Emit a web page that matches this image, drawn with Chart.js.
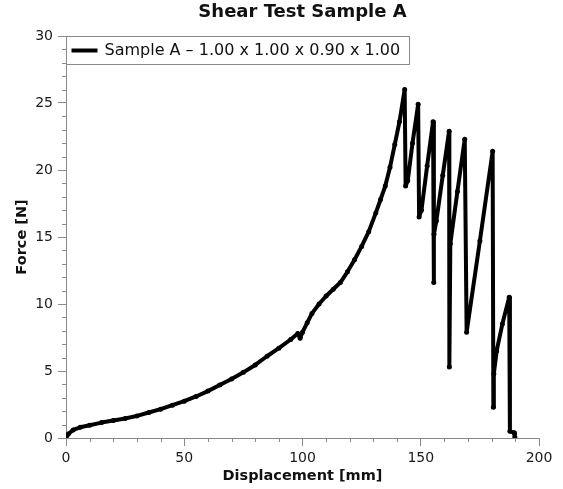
<!DOCTYPE html>
<html>
<head>
<meta charset="utf-8">
<title>Shear Test Sample A</title>
<script src="https://cdn.jsdelivr.net/npm/chart.js@4/dist/chart.umd.min.js"></script>
<style>
  html, body { margin: 0; padding: 0; background: #fff; }
  #wrap { width: 563px; height: 489px; }
</style>
</head>
<body>
<div id="wrap"><canvas id="shearChart"></canvas></div>
<script>
// displacement [mm] / force [N]
const displacement = [0, 1, 3, 6, 10, 15, 20, 25, 30, 35, 40, 45, 50, 55, 60, 65, 70, 75, 80, 85, 90, 95, 98, 99, 100,
  102, 104, 107, 110, 113, 116, 119, 122, 125, 128, 131, 133, 135, 137, 139, 141, 143.2,
  143.6, 144.5, 146.5, 148.9, 149.3, 150.3, 152.7, 155.2, 155.5, 155.6, 156.6, 159.3, 162.0,
  162.1, 162.5, 165.5, 168.6, 169.4, 175, 180.4, 180.7, 180.9, 182.1, 184.5, 187.4, 187.7, 189.5, 189.8];
const force = [0, 0.3, 0.6, 0.8, 0.95, 1.15, 1.3, 1.45, 1.65, 1.9, 2.15, 2.45, 2.75, 3.1, 3.5, 3.95, 4.4, 4.9, 5.45, 6.1, 6.7, 7.35, 7.8, 7.45, 7.9,
  8.6, 9.3, 10.0, 10.6, 11.1, 11.6, 12.4, 13.3, 14.3, 15.4, 16.8, 17.8, 18.8, 20.2, 21.9, 23.6, 26.0,
  18.8, 19.2, 22.0, 24.9, 16.5, 17.0, 20.3, 23.6, 11.6, 15.2, 16.2, 19.6, 22.9,
  5.3, 14.5, 18.4, 22.3, 7.9, 14.7, 21.4, 2.3, 4.8, 6.5, 8.5, 10.5, 0.5, 0.4, 0.05];

const xMajorTicks = [0, 50, 100, 150, 200];
const yMajorTicks = [0, 5, 10, 15, 20, 25, 30];

const FONT = 'DejaVu Sans';
const AXIS_GREY = '#8a8a8a';

Chart.defaults.font.family = FONT;
Chart.defaults.color = '#1a1a1a';

// kleine Ticks (minor) zeichnen, 4px statt 8px
const minorTicks = {
  id: 'minorTicks',
  afterDraw(chart) {
    const c = chart.ctx;
    c.save();
    c.strokeStyle = AXIS_GREY;
    c.lineWidth = 1;
    const xs = chart.scales.x, ys = chart.scales.y;
    xs.ticks.forEach(t => {
      if (xMajorTicks.includes(t.value)) return;
      const px = Math.round(xs.getPixelForValue(t.value)) + 0.5;
      c.beginPath(); c.moveTo(px, xs.top); c.lineTo(px, xs.top + 4); c.stroke();
    });
    ys.ticks.forEach(t => {
      if (yMajorTicks.includes(t.value)) return;
      const py = Math.round(ys.getPixelForValue(t.value)) + 0.5;
      c.beginPath(); c.moveTo(ys.right, py); c.lineTo(ys.right - 4, py); c.stroke();
    });
    c.restore();
  }
};

// Legende im Plotbereich, oben links, mit Rahmen
const innerLegend = {
  id: 'innerLegend',
  afterDraw(chart) {
    const ds = chart.data.datasets[0];
    const area = chart.chartArea;
    const c = chart.ctx;
    const left = Math.round(area.left) + 0.5;
    const top = Math.round(area.top) + 0.5;
    const h = 28;
    const cy = top + h / 2;
    c.save();
    c.font = '16px "' + FONT + '"';
    const textX = left + 38;
    const w = textX + c.measureText(ds.label).width + 9 - left;
    c.fillStyle = '#fff';
    c.fillRect(left, top, w, h);
    c.strokeStyle = AXIS_GREY;
    c.lineWidth = 1;
    c.strokeRect(left, top, Math.round(w), h);
    c.strokeStyle = ds.borderColor;
    c.lineWidth = 4;
    c.beginPath(); c.moveTo(left + 5, cy); c.lineTo(left + 31, cy); c.stroke();
    c.fillStyle = '#111';
    c.textBaseline = 'middle';
    c.fillText(ds.label, textX, cy + 0.5);
    c.restore();
  }
};

const ctx = document.getElementById('shearChart');
const chart = new Chart(ctx.getContext('2d'), {
  type: 'scatter',
  data: {
    datasets: [{
      label: 'Sample A \u2013 1.00 x 1.00 x 0.90 x 1.00',
      data: displacement.map((d, i) => ({ x: d, y: force[i] })),
      showLine: true,
      borderColor: '#000',
      backgroundColor: '#000',
      borderWidth: 4,
      borderJoinStyle: 'round',
      pointRadius: 2.5,
      pointBorderWidth: 0,
      pointBackgroundColor: '#000',
      tension: 0
    }]
  },
  options: {
    responsive: true,
    maintainAspectRatio: false,
    animation: false,
    layout: { padding: { left: 6, right: 24, top: 0, bottom: 0 } },
    scales: {
      x: {
        type: 'linear',
        min: 0, max: 200,
        afterFit: s => { s.height = 51; },
        border: { color: AXIS_GREY, width: 1 },
        grid: {
          drawOnChartArea: false,
          tickLength: 8,
          tickColor: c => xMajorTicks.includes(c.tick && c.tick.value) ? AXIS_GREY : 'rgba(0,0,0,0)'
        },
        ticks: {
          stepSize: 10,
          autoSkip: false,
          maxRotation: 0,
          padding: 4,
          font: { size: 14 },
          callback: v => xMajorTicks.includes(v) ? String(v) : ''
        },
        title: {
          display: true,
          text: 'Displacement [mm]',
          font: { size: 14.5, weight: 'bold' },
          color: '#111',
          padding: { top: 0, bottom: 4 }
        }
      },
      y: {
        type: 'linear',
        min: 0, max: 30,
        afterFit: s => { s.width = 60; },
        border: { color: AXIS_GREY, width: 1 },
        grid: {
          drawOnChartArea: false,
          tickLength: 8,
          tickColor: c => yMajorTicks.includes(c.tick && c.tick.value) ? AXIS_GREY : 'rgba(0,0,0,0)'
        },
        ticks: {
          stepSize: 1,
          autoSkip: false,
          maxTicksLimit: 100,
          padding: 5,
          font: { size: 14 },
          callback: v => yMajorTicks.includes(v) ? String(v) : ''
        },
        title: {
          display: true,
          text: 'Force [N]',
          font: { size: 14.5, weight: 'bold' },
          color: '#111',
          padding: { top: 8, bottom: 0 }
        }
      }
    },
    plugins: {
      title: {
        display: true,
        fullSize: false,
        text: 'Shear Test Sample A',
        font: { size: 18, weight: 'bold' },
        color: '#111',
        padding: { top: 2, bottom: 12.4 }
      },
      legend: { display: false },
      tooltip: { enabled: false }
    }
  },
  plugins: [minorTicks, innerLegend]
});
</script>
</body>
</html>
